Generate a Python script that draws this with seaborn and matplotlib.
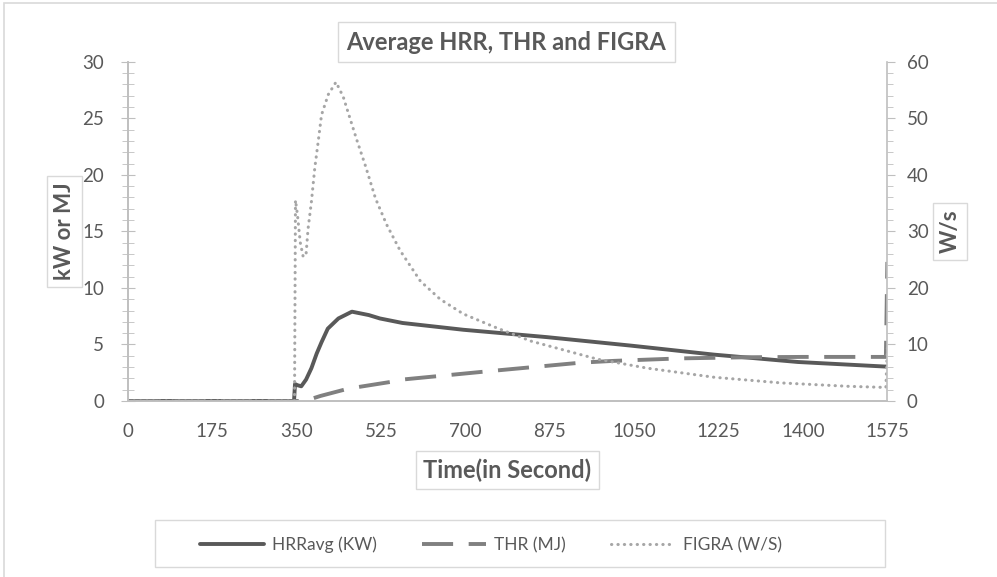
import numpy as np
import pandas as pd
import matplotlib
matplotlib.use('Agg')
import matplotlib.pyplot as plt
import seaborn as sns
from matplotlib.ticker import MultipleLocator
from matplotlib.lines import Line2D
from matplotlib.patches import Rectangle

# HRRavg (kW) - left axis
hrr_t = [0, 345, 347, 352, 360, 370, 381, 392, 402, 415, 437, 465, 500, 523, 570,
         696, 869, 1043, 1216, 1390, 1569, 1575]
hrr_v = [0, 0, 1.5, 1.4, 1.3, 1.9, 2.9, 4.2, 5.2, 6.4, 7.3, 7.9, 7.6, 7.3, 6.9,
         6.3, 5.65, 4.9, 4.1, 3.45, 3.05, 3.05]

# THR (MJ) - left axis
thr_t = [0, 350, 367, 400, 458, 544, 570, 752, 939, 1008, 1147, 1286, 1400, 1572, 1575]
thr_v = [0, 0, 0, 0.45, 1.1, 1.68, 1.9, 2.65, 3.39, 3.55, 3.77, 3.87, 3.9, 3.9, 12.3]

# FIGRA (W/s) - right axis
figra_t = [0, 345, 346, 348, 352, 358, 364, 370, 374, 381, 388, 395, 402, 416, 432,
           447, 458, 475, 493, 514, 537, 565, 607, 648, 696, 766, 836, 905, 974,
           1078, 1216, 1355, 1494, 1572, 1575]
figra_v = [0, 0, 0, 35.5, 33, 28, 25.5, 26, 30.4, 35.2, 41.2, 45.8, 50.6, 54.2, 56.4,
           53.8, 50.8, 46.2, 41.6, 35.8, 31.2, 26.6, 21.2, 18.0, 15.4, 12.9, 10.6, 9.0, 7.4,
           5.8, 4.2, 3.2, 2.6, 2.4, 9.5]

x_ticks = [0, 175, 350, 525, 700, 875, 1050, 1225, 1400, 1575]

sns.set_style('white')
plt.rcParams['font.family'] = ['Lato', 'DejaVu Sans']

txt = '#595959'
axc = '#bfbfbf'
box = dict(boxstyle='square,pad=0.3', fc='white', ec='#d9d9d9', lw=1)

fig = plt.figure(figsize=(9.97, 5.77), dpi=100)
ax = fig.add_axes([0.128, 0.305, 0.762, 0.588])
ax2 = ax.twinx()

sns.lineplot(x=hrr_t, y=hrr_v, ax=ax, color='#595959', lw=2.8, sort=False, estimator=None)
sns.lineplot(x=thr_t, y=thr_v, ax=ax, color='#808080', lw=2.8, sort=False, estimator=None)
ax.lines[-1].set_dashes([8, 4])
sns.lineplot(x=figra_t, y=figra_v, ax=ax2, color='#a6a6a6', lw=2.2, sort=False, estimator=None)
ax2.lines[-1].set_dashes([0.1, 2.0])
ax2.lines[-1].set_dash_capstyle('round')

ax.set_xlim(0, 1575)
ax.set_ylim(0, 30)
ax2.set_ylim(0, 60)
ax.set_xticks(x_ticks)
ax.xaxis.set_minor_locator(MultipleLocator(35))
ax.yaxis.set_major_locator(MultipleLocator(5))
ax.yaxis.set_minor_locator(MultipleLocator(1))
ax2.yaxis.set_major_locator(MultipleLocator(10))
ax2.yaxis.set_minor_locator(MultipleLocator(2))

for a in (ax, ax2):
    for s in a.spines.values():
        s.set_color(axc)
        s.set_linewidth(1.2)
    a.spines['top'].set_visible(False)
ax.spines['right'].set_visible(False)

ax.tick_params(axis='x', which='major', direction='out', length=6, color=axc,
               labelsize=13.5, labelcolor=txt, pad=10)
ax.tick_params(axis='x', which='minor', direction='out', length=4, color=axc)
ax.tick_params(axis='y', which='major', direction='inout', length=10, color=axc,
               labelsize=13.5, labelcolor=txt, pad=12)
ax.tick_params(axis='y', which='minor', direction='inout', length=8, color=axc)
ax2.tick_params(axis='y', which='major', direction='out', length=6, color=axc,
                labelsize=13.5, labelcolor=txt, pad=8)
ax2.tick_params(axis='y', which='minor', direction='out', length=4, color=axc)

ax.set_xlabel('Time(in Second)', fontsize=17, fontweight='bold', color=txt, labelpad=13, bbox=box)
ax.set_ylabel('kW or MJ', fontsize=16, fontweight='bold', color=txt, labelpad=5, bbox=box)
ax2.set_ylabel('W/s', fontsize=16, fontweight='bold', color=txt, labelpad=8, bbox=box)

fig.text(0.508, 0.927, 'Average HRR, THR and FIGRA', ha='center', va='center',
         fontsize=17, fontweight='bold', color=txt,
         bbox=dict(boxstyle='square,pad=0.35', fc='white', ec='#d9d9d9', lw=1))

# legend entries with a wider frame drawn separately
handles = [Line2D([], [], color='#595959', lw=2.8),
           Line2D([], [], color='#808080', lw=2.8, dashes=[8, 4]),
           Line2D([], [], color='#a6a6a6', lw=2.2, dashes=[0.1, 2.0], dash_capstyle='round')]
leg = fig.legend(handles, ['HRRavg (KW)', 'THR (MJ)', 'FIGRA (W/S)'], loc='center',
                 bbox_to_anchor=(0.4925, 0.0555), ncol=3, fontsize=12.5, frameon=False,
                 handlelength=3.7, columnspacing=2.6, handletextpad=0.45)
for t in leg.get_texts():
    t.set_color(txt)
fig.patches.append(Rectangle((0.1555, 0.017), 0.732, 0.081, transform=fig.transFigure,
                             fill=False, ec='#d9d9d9', lw=1))

fig.patches.append(Rectangle((0.004, -0.01), 1.0, 1.005, transform=fig.transFigure,
                             fill=False, ec='#d9d9d9', lw=1.2))

fig.savefig('out.png', dpi=100)
